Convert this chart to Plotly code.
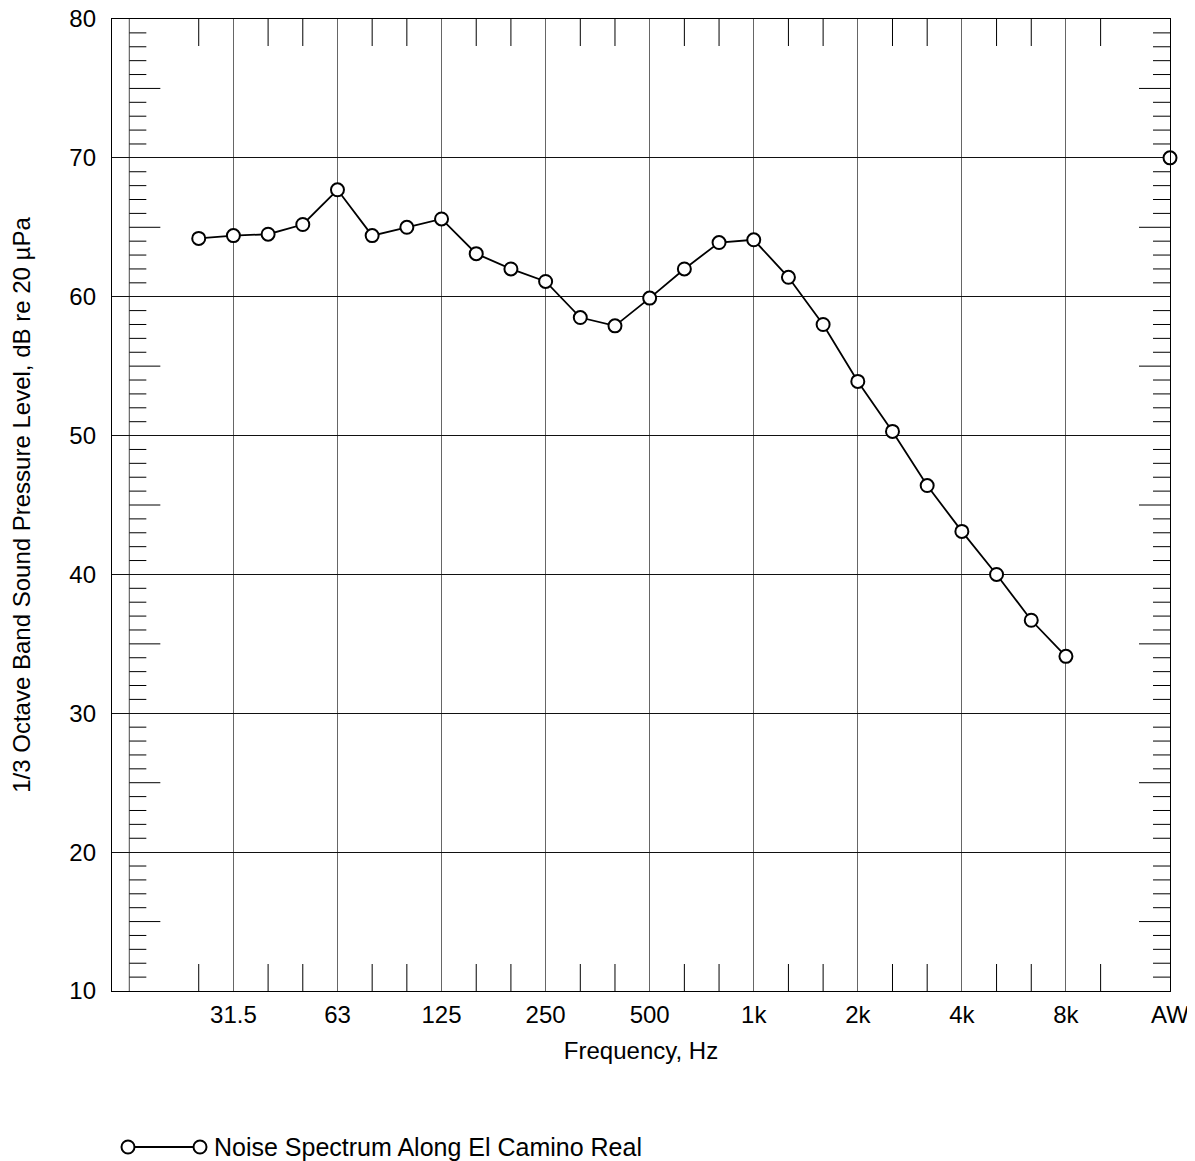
import plotly.graph_objects as go

# 1/3 octave band centre frequencies (Hz) plotted on a band-index axis
bands = ["25", "31.5", "40", "50", "63", "80", "100", "125", "160", "200", "250",
         "315", "400", "500", "630", "800", "1k", "1.25k", "1.6k", "2k", "2.5k",
         "3.15k", "4k", "5k", "6.3k", "8k"]
levels = [64.2, 64.4, 64.5, 65.2, 67.7, 64.4, 65.0, 65.6, 63.1, 62.0, 61.1,
          58.5, 57.9, 59.9, 62.0, 63.9, 64.1, 61.4, 58.0, 53.9, 50.3,
          46.4, 43.1, 40.0, 36.7, 34.1]
aw_label = "AW"
aw_level = 70.0

tick_labels = ["31.5", "63", "125", "250", "500", "1k", "2k", "4k", "8k", "AW"]
series_name = "Noise Spectrum Along El Camino Real"

band_index = list(range(len(bands)))          # 25 Hz -> 0
aw_index = band_index[-1] + 3                 # AW column one octave past 8k
tick_pos = [bands.index(t) if t in bands else aw_index for t in tick_labels]

FONT = "Liberation Sans, Arial, Helvetica, sans-serif"
fig = go.Figure()

fig.add_trace(go.Scatter(
    x=band_index, y=levels, mode="lines+markers",
    line=dict(color="black", width=1.8),
    marker=dict(symbol="circle", size=13, color="white",
                line=dict(color="black", width=2)),
    showlegend=False, cliponaxis=False))
fig.add_trace(go.Scatter(
    x=[aw_index], y=[aw_level], mode="markers",
    marker=dict(symbol="circle", size=13, color="white",
                line=dict(color="black", width=2)),
    showlegend=False, cliponaxis=False))

shapes = []
xmin, xmax = -2.5, aw_index
ymin, ymax = 10, 80
# inner left scale line
shapes.append(dict(type="line", xref="x", yref="y", x0=-2, x1=-2, y0=ymin, y1=ymax,
                   line=dict(color="#666", width=1.2), layer="below"))
# dB ticks on left inner line and right frame
for db in range(ymin + 1, ymax):
    if db % 10 == 0:
        continue
    L = 31 if db % 5 == 0 else 17
    shapes.append(dict(type="line", xref="x", yref="y", xsizemode="pixel", xanchor=-2,
                       x0=0, x1=L, y0=db, y1=db, line=dict(color="black", width=1)))
    shapes.append(dict(type="line", xref="x", yref="y", xsizemode="pixel", xanchor=xmax,
                       x0=-L, x1=0, y0=db, y1=db, line=dict(color="black", width=1)))
# 1/3-octave ticks top and bottom (25 Hz .. 10 kHz)
for i in range(0, band_index[-1] + 2):
    if i in tick_pos:
        continue
    shapes.append(dict(type="line", xref="x", yref="y", ysizemode="pixel", yanchor=ymin,
                       x0=i, x1=i, y0=0, y1=27, line=dict(color="black", width=1)))
    shapes.append(dict(type="line", xref="x", yref="y", ysizemode="pixel", yanchor=ymax,
                       x0=i, x1=i, y0=-27, y1=0, line=dict(color="black", width=1)))

# legend drawn manually (marker at both ends of the line)
W, H = 1058, 972
lx0, lx1, ly = (128 - 112) / W, (200 - 112) / W, (991 - 1147) / H
shapes.append(dict(type="line", xref="paper", yref="paper", x0=lx0, x1=lx1, y0=ly, y1=ly,
                   line=dict(color="black", width=1.8)))
for lx in (lx0, lx1):
    shapes.append(dict(type="circle", xref="paper", yref="paper",
                       xsizemode="pixel", ysizemode="pixel", xanchor=lx, yanchor=ly,
                       x0=-6.5, x1=6.5, y0=-6.5, y1=6.5,
                       fillcolor="white", line=dict(color="black", width=2)))

fig.update_layout(
    width=1195, height=1161,
    margin=dict(l=104, r=33, t=11, b=178, autoexpand=False),
    paper_bgcolor="white", plot_bgcolor="white",
    font=dict(family=FONT, size=24, color="black"),
    shapes=shapes,
    annotations=[dict(text=series_name, xref="paper", yref="paper",
                      x=(212 - 112) / W, y=ly, xanchor="left", yanchor="middle",
                      showarrow=False, font=dict(size=25))],
    xaxis=dict(range=[xmin, xmax], tickmode="array", tickvals=tick_pos,
               ticktext=tick_labels, showgrid=True, gridcolor="#666", gridwidth=1.2,
               showline=True, linecolor="black", linewidth=1.3, mirror=True,
               ticks="", ticklabelstandoff=2, zeroline=False,
               ticklabeloverflow="allow", automargin=False,
               title=dict(text="Frequency, Hz", standoff=15, font=dict(size=24))),
    yaxis=dict(range=[ymin, ymax], tickmode="array", tickvals=list(range(10, 81, 10)),
               showgrid=True, gridcolor="#111", gridwidth=1,
               showline=True, linecolor="black", linewidth=1.3, mirror=True,
               ticks="", ticklabelstandoff=10, zeroline=False,
               ticklabeloverflow="allow", automargin=False,
               title=dict(text="1/3 Octave Band Sound Pressure Level, dB re 20 µPa",
                          standoff=38, font=dict(size=24))),
)

fig.write_html("out.html")
